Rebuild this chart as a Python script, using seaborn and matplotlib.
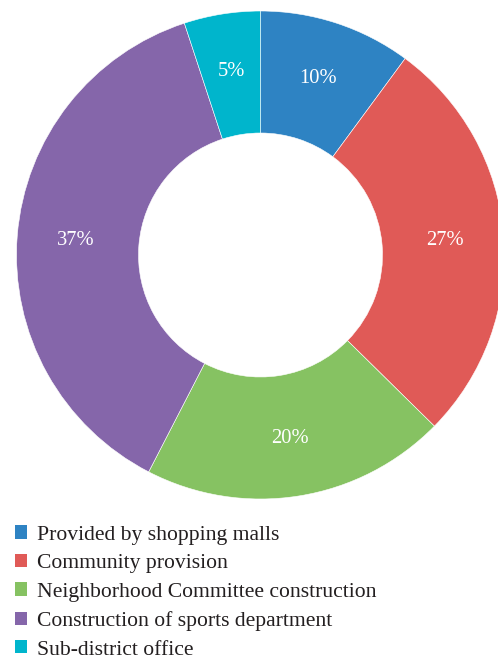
import matplotlib
matplotlib.use("Agg")
import matplotlib.pyplot as plt
from matplotlib.patches import Patch
import numpy as np
import seaborn as sns

# Share of facility providers (percent)
categories = [
    "Provided by shopping malls",
    "Community provision",
    "Neighborhood Committee construction",
    "Construction of sports department",
    "Sub-district office",
]
shares = [10, 27, 20, 37, 5]
colors = ["#2E83C3", "#E05A57", "#86C262", "#8566AA", "#00B5CC"]

sns.set_theme(style="white")
plt.rcParams["font.family"] = ["Liberation Serif", "DejaVu Serif"]

fig = plt.figure(figsize=(4.98, 6.59), dpi=100)
ax = fig.add_axes([16.5 / 498, 160 / 659, 488 / 498, 488 / 659])

wedges, _ = ax.pie(
    shares,
    colors=colors,
    startangle=90,
    counterclock=False,
    radius=1.0,
    wedgeprops=dict(width=0.5, edgecolor="white", linewidth=0.4),
)

# Percentage labels placed at the middle of the ring
for w, v in zip(wedges, shares):
    mid = np.deg2rad((w.theta1 + w.theta2) / 2)
    r = 0.76
    ax.text(r * np.cos(mid), r * np.sin(mid), f"{v}%", ha="center", va="center",
            color="white", fontsize=14.8)

ax.set_xlim(-1, 1)
ax.set_ylim(-1, 1)
ax.set_aspect("equal")
ax.axis("off")

handles = [Patch(facecolor=c, edgecolor="none") for c in colors]
fig.legend(
    handles, categories,
    loc="upper left",
    bbox_to_anchor=(11 / 498, 1 - 521 / 659),
    frameon=False,
    fontsize=15.6,
    handlelength=0.56,
    handleheight=0.56,
    handletextpad=0.42,
    labelspacing=0.43,
    borderaxespad=0,
    borderpad=0.2,
    labelcolor="#231F20",
)

fig.savefig("out.png", dpi=100, facecolor="white")
